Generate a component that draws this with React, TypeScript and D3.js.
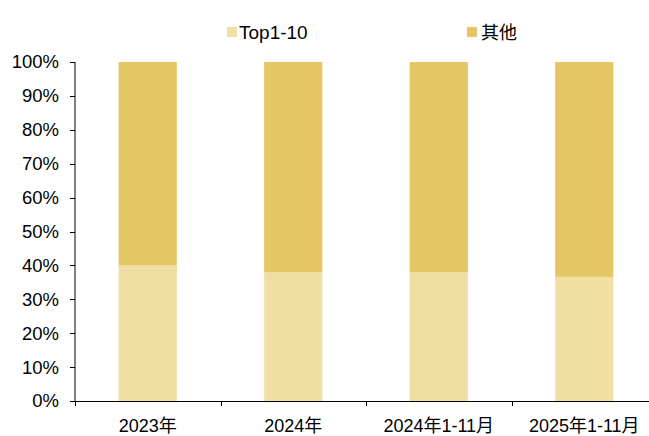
import React from "react";
import * as d3 from "d3";

const categories = ["2023年", "2024年", "2024年1-11月", "2025年1-11月"];
const top10 = [40, 38, 38, 36.6];
const others = top10.map((v) => 100 - v);
const seriesNames = ["Top1-10", "其他"];
const colors = ["#F0DEA2", "#E3C765"];
const yTicks = [0, 10, 20, 30, 40, 50, 60, 70, 80, 90, 100];

export default function App() {
  const W = 649, H = 436;
  const left = 75, right = 657, top = 62, bottom = 401;
  const x = d3.scaleBand<string>().domain(categories).range([left, right]).paddingInner(0.6).paddingOuter(0.3);
  const xb = d3.scaleBand<string>().domain(categories).range([left, right]);
  const y = d3.scaleLinear().domain([0, 100]).range([bottom, top]);
  const font = "'Liberation Sans', Arial, 'Noto Sans CJK SC', sans-serif";
  const stacked = categories.map((c, i) => ({ c, a: top10[i], b: others[i] }));
  return (
    <svg width={W} height={H} style={{ position: "absolute", left: 0, top: 0 }} fontFamily={font}>
      <rect width={W} height={H} fill="#fff" />
      {stacked.map((d) => (
        <g key={d.c}>
          <rect x={x(d.c)} width={x.bandwidth()} y={y(d.a)} height={y(0) - y(d.a)} fill={colors[0]} />
          <rect x={x(d.c)} width={x.bandwidth()} y={y(100)} height={y(d.a) - y(100)} fill={colors[1]} />
        </g>
      ))}
      <line x1={left} x2={left} y1={top} y2={bottom} stroke="#000" />
      {yTicks.map((t) => (
        <g key={t}>
          <line x1={left - 5} x2={left} y1={Math.round(y(t)) + 0.5} y2={Math.round(y(t)) + 0.5} stroke="#000" />
          <text x={left - 16} y={y(t)} dy="0.35em" textAnchor="end" fontSize={18.5} fill="#000">{t}%</text>
        </g>
      ))}
      <line x1={left} x2={W} y1={bottom + 0.5} y2={bottom + 0.5} stroke="#000" />
      {categories.map((c, i) => (
        <line key={"t" + i} x1={Math.round(xb(c)!) + 0.5} x2={Math.round(xb(c)!) + 0.5} y1={bottom} y2={bottom + 5} stroke="#000" />
      ))}
      {categories.map((c) => (
        <text key={c} x={x(c)! + x.bandwidth() / 2} y={432} textAnchor="middle" fontSize={18} fill="#000">{c}</text>
      ))}
      <g>
        <rect x={227} y={27} width={10} height={10} fill={colors[0]} />
        <text x={239} y={39} fontSize={19} fill="#000">{seriesNames[0]}</text>
        <rect x={467} y={27} width={10} height={10} fill={colors[1]} />
        <text x={481} y={39} fontSize={18} fill="#000">{seriesNames[1]}</text>
      </g>
    </svg>
  );
}
